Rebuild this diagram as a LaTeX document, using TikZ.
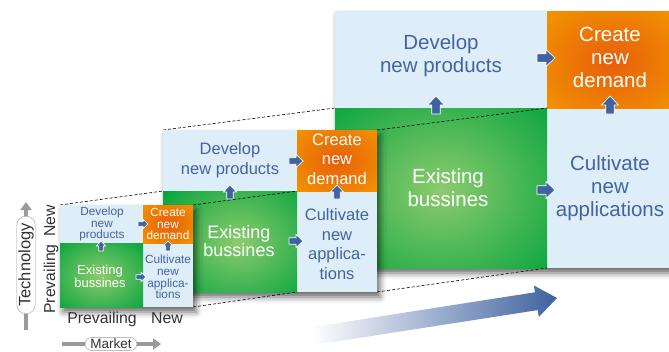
\documentclass[tikz,border=0pt]{standalone}
\usepackage{fontspec}
\setmainfont{Liberation Sans}
\usetikzlibrary{shadows.blur,arrows.meta,shapes.misc}
\definecolor{cellblue}{HTML}{DDEEF8}
\definecolor{greenc}{HTML}{00A23B}
\definecolor{glowgreen}{HTML}{8DCB6E}
\definecolor{orangec}{HTML}{F39A00}
\definecolor{orangedark}{HTML}{E85E0A}
\definecolor{textblue}{HTML}{4463A0}
\definecolor{arrowblue}{HTML}{3F62A0}
\definecolor{axisgray}{HTML}{9A9A9A}
\definecolor{labelgray}{HTML}{333333}
\newcommand\blockarrow[4]{%
  \begin{scope}[shift={(#1,#2)}, rotate=#3, scale=#4]
    \filldraw[fill=arrowblue, draw=white, line width=0.7pt]
      (-9,-4.2) -- (0,-4.2) -- (0,-8.5) -- (9,0) -- (0,8.5) -- (0,4.2) -- (-9,4.2) -- cycle;
  \end{scope}}
\begin{document}
\begin{tikzpicture}[x=1pt,y=-1pt,
  shadowed/.style={blur shadow={shadow xshift=3pt, shadow yshift=-5pt, shadow blur radius=6pt, shadow opacity=60}},
  btxt/.style={text=textblue, align=center, inner sep=0pt},
  wtxt/.style={text=white, align=center, inner sep=0pt},
  fL/.style={font=\fontsize{20.5}{23}\selectfont},
  fM/.style={font=\fontsize{16.5}{19.5}\selectfont},
  fMg/.style={font=\fontsize{18}{18.5}\selectfont},
  fS/.style={font=\fontsize{11.8}{11.7}\selectfont},
  fSg/.style={font=\fontsize{13}{13.3}\selectfont},
  dline/.style={draw=black, line width=0.6pt, dash pattern=on 3pt off 2pt},
  axlabel/.style={text=labelgray, inner sep=0pt, font=\fontsize{15.8}{18}\selectfont},
  pill/.style={rounded rectangle, draw=axisgray, fill=white, text=labelgray, inner xsep=3pt, inner ysep=1.6pt},
  axisarrow/.style={draw=axisgray, line width=4pt, -{Triangle[length=8pt,width=11pt]}}
]
\useasboundingbox (0,0) rectangle (669,351);
\clip (0,0) rectangle (669,351);

% big gradient arrow
\shade[left color=white, right color=arrowblue]
  (311.6,327.1) -- (534.9,292.3) -- (533.8,285.4) -- (557,298) -- (538.8,317) -- (537.7,310.1) -- (314.4,344.9) -- cycle;

% ---------------- large matrix ----------------
\path[shadowed, fill=cellblue] (335,11) rectangle (690,268);
\fill[orangec] (547,11) rectangle (690,108);
\fill[greenc] (335,108) rectangle (547,268);
\begin{scope}
  \clip (335,108) rectangle (547,268);
  \shade[inner color=glowgreen, outer color=greenc] (441,190) ellipse [x radius=160, y radius=135];
\end{scope}
\begin{scope}
  \clip (547,11) rectangle (690,108);
  \shade[inner color=orangedark, outer color=orangec] (612,62) ellipse [x radius=100, y radius=80];
\end{scope}
\node[btxt,fL] (Ldev) at (441,56) {Develop\\new products};
\node[wtxt,fL] (Lcre) at (610,57) {Create\\new\\demand};
\node[wtxt,fL] (Lexi) at (448,188) {Existing\\bussines};
\node[btxt,fL] (Lcul) at (610,188) {Cultivate\\new\\applications};
\blockarrow{546}{58}{0}{1}
\blockarrow{436}{105}{90}{1}
\blockarrow{546}{190}{0}{1}
\blockarrow{610}{105}{90}{1}
\coordinate (LgTL) at (335,108);
\coordinate (LgTR) at (547,108);
\coordinate (LgBR) at (547,268);
\coordinate (LgBL) at (335,268);

% ---------------- medium matrix ----------------
\coordinate (MTL) at (163,130);
\coordinate (MTR) at (377,130);
\coordinate (MBR) at (377,292);
\coordinate (MBL) at (163,292);
\draw[dline] (MTL) -- (LgTL);
\draw[dline] (MTR) -- (LgTR);
\draw[dline] (MBR) -- (LgBR);
\draw[dline] (MBL) -- (LgBL);
\path[shadowed, fill=cellblue] (MTL) rectangle (MBR);
\fill[orangec] (297,130) rectangle (377,191);
\fill[greenc] (163,191) rectangle (297,292);
\begin{scope}
  \clip (163,191) rectangle (297,292);
  \shade[inner color=glowgreen, outer color=greenc] (238,242) ellipse [x radius=100, y radius=84];
\end{scope}
\begin{scope}
  \clip (297,130) rectangle (377,191);
  \shade[inner color=orangedark, outer color=orangec] (337,160) ellipse [x radius=64, y radius=50];
\end{scope}
\node[btxt,fM] (Mdev) at (230,160) {Develop\\new products};
\node[wtxt,fM] (Mcre) at (337,159) {Create\\new\\demand};
\node[wtxt,fMg] (Mexi) at (239,241) {Existing\\bussines};
\node[btxt,fM] (Mcul) at (337,244) {Cultivate\\new\\applica-\\tions};
\blockarrow{296}{161}{0}{0.78}
\blockarrow{230}{192}{90}{0.78}
\blockarrow{296}{241}{0}{0.78}
\blockarrow{337}{192}{90}{0.78}
\coordinate (MgTL) at (163,191);
\coordinate (MgTR) at (297,191);
\coordinate (MgBR) at (297,292);
\coordinate (MgBL) at (163,292);

% ---------------- small matrix ----------------
\coordinate (STL) at (60,205);
\coordinate (STR) at (193,205);
\coordinate (SBR) at (193,307);
\coordinate (SBL) at (60,307);
\draw[dline] (STL) -- (MgTL);
\draw[dline] (STR) -- (MgTR);
\draw[dline] (SBR) -- (MgBR);
\draw[dline] (SBL) -- (MgBL);
\path[shadowed, fill=cellblue] (STL) rectangle (SBR);
\fill[orangec] (143,205) rectangle (193,243);
\fill[greenc] (60,243) rectangle (143,307);
\begin{scope}
  \clip (60,243) rectangle (143,307);
  \shade[inner color=glowgreen, outer color=greenc] (100,276) ellipse [x radius=64, y radius=50];
\end{scope}
\begin{scope}
  \clip (143,205) rectangle (193,243);
  \shade[inner color=orangedark, outer color=orangec] (168,224) ellipse [x radius=40, y radius=32];
\end{scope}
\node[btxt,fS] (Sdev) at (102,224) {Develop\\new\\products};
\node[wtxt,fS] (Scre) at (168,224) {Create\\new\\demand};
\node[wtxt,fSg] (Sexi) at (100,276) {Existing\\bussines};
\node[btxt,fS] (Scul) at (168,277) {Cultivate\\new\\applica-\\tions};
\blockarrow{143}{224}{0}{0.55}
\blockarrow{101}{246}{90}{0.55}
\blockarrow{141}{277}{0}{0.55}
\blockarrow{168}{246}{90}{0.55}

% ---------------- axes ----------------
\node[axlabel, rotate=90, anchor=base] (vNew) at (55,221) {New};
\node[axlabel, rotate=90, anchor=base] (vPrev) at (55,279) {Prevailing};
\node[axlabel, anchor=base] (hPrev) at (102,323) {Prevailing};
\node[axlabel, anchor=base] (hNew) at (167,323) {New};

\coordinate (tA) at (26,330);
\coordinate (tB) at (26,202);
\draw[axisarrow] (tA) -- (tB);
\node[pill, rotate=90, font=\fontsize{16.5}{18}\selectfont] (tech) at (26,265) {Technology};

\coordinate (mA) at (62,344);
\coordinate (mB) at (161,344);
\draw[axisarrow] (mA) -- (mB);
\node[pill, font=\fontsize{13.5}{15}\selectfont] (market) at (111,344) {Market};
\end{tikzpicture}
\end{document}
